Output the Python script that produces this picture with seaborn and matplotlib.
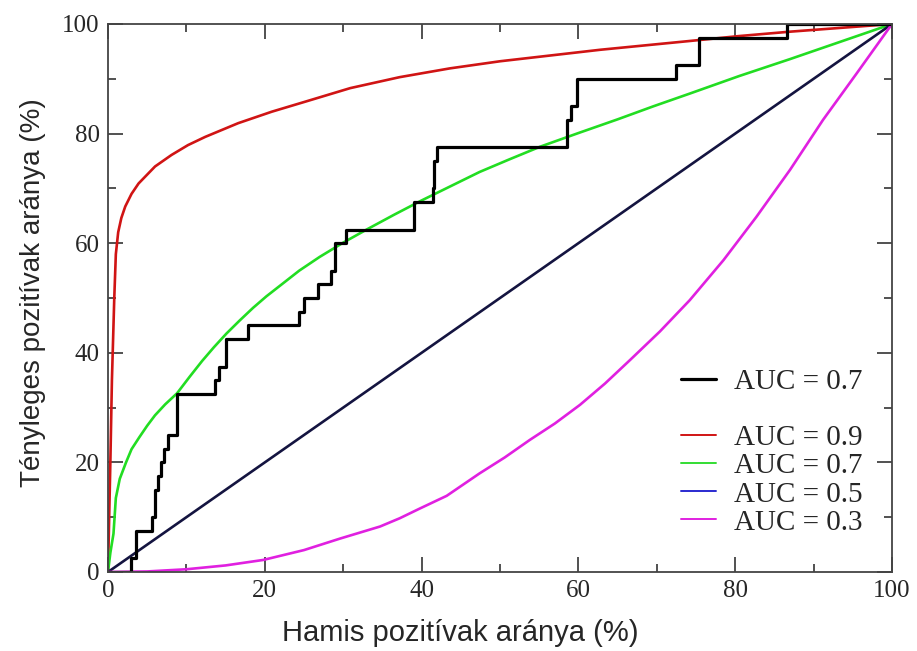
import matplotlib
matplotlib.use("Agg")
import matplotlib.pyplot as plt
from matplotlib.lines import Line2D
from matplotlib.ticker import MultipleLocator
import seaborn as sns
import pandas as pd

# Empirical ROC curve (step function): false positive rate / true positive rate, %
emp_fpr = [0, 2.9, 3.6, 5.6, 6.0, 6.4, 6.8, 7.2, 7.6, 8.8, 13.6, 14.2, 15.1, 17.8,
           24.4, 25.0, 26.8, 28.5, 28.9, 30.3, 39.0, 41.4, 41.6, 42.0, 58.5, 59.0,
           59.8, 72.4, 75.4, 86.6, 100]
emp_tpr = [0, 2.5, 7.5, 10, 15, 17.5, 20, 22.5, 25, 32.5, 35, 37.5, 42.5, 45,
           47.5, 50, 52.5, 55, 60, 62.5, 67.5, 70, 75, 77.5, 82.5, 85,
           90, 92.5, 97.5, 100, 100]

# Smooth reference ROC curves
auc09_fpr = [0, 0.3, 0.5, 0.8, 1.0, 1.3, 1.7, 2.2, 3.0, 3.9, 6.0, 8.1, 10.2, 12.4, 16.6,
             20.9, 25.1, 30.9, 37.2, 43.6, 50.0, 56.1, 62.8, 68.5, 74.2, 80.5, 87.0,
             93.5, 100]
auc09_tpr = [0, 20, 35, 50, 58, 62, 64.6, 66.7, 69.0, 70.9, 74.0, 76.1, 77.9, 79.4, 81.9,
             84.0, 85.8, 88.3, 90.3, 91.9, 93.2, 94.2, 95.3, 96.1, 96.9, 97.8, 98.6,
             99.3, 100]

auc07_fpr = [0, 0.3, 0.7, 1.0, 1.5, 2.3, 3.0, 4.0, 5.0, 6.0, 7.3, 8.8, 10.4, 12.0, 13.5,
             15.1, 16.8, 18.5, 20.2, 21.9, 24.4, 27.0, 30.0, 33.0, 36.5, 40.0, 43.7,
             47.4, 51.2, 55.1, 60.0, 65.0, 69.6, 74.2, 80.5, 87.0, 93.5, 100]
auc07_tpr = [0, 3.5, 7.0, 13.5, 17.0, 20.0, 22.4, 24.6, 26.7, 28.6, 30.6, 32.6, 35.6,
             38.5, 41.0, 43.5, 45.9, 48.2, 50.3, 52.2, 55.0, 57.5, 60.1, 62.5, 65.2,
             67.8, 70.4, 73.0, 75.3, 77.6, 80.1, 82.6, 85.0, 87.3, 90.5, 93.6, 96.8, 100]

auc05_fpr = [0, 100]
auc05_tpr = [0, 100]

auc03_fpr = [0, 5, 10, 15, 19.8, 25, 29.6, 34.7, 37.2, 39.8, 43.2, 47.4, 50.6, 53.8,
             57.0, 60.2, 63.4, 66.6, 70.4, 74.2, 78.5, 82.7, 87.0, 91.2, 95.5, 100]
auc03_tpr = [0, 0.1, 0.5, 1.2, 2.2, 4.0, 6.1, 8.3, 9.8, 11.6, 13.9, 18.0, 20.9, 24.1,
             27.1, 30.5, 34.4, 38.7, 43.9, 49.6, 56.9, 64.8, 73.4, 82.5, 91.0, 100]

legend_labels = ["AUC = 0.7", "", "AUC = 0.9", "AUC = 0.7", "AUC = 0.5", "AUC = 0.3"]
x_label = "Hamis pozitívak aránya (%)"
y_label = "Tényleges pozitívak aránya (%)"

sns.set_theme(style="ticks")
plt.rcParams["font.family"] = ["Liberation Serif", "DejaVu Serif"]

fig = plt.figure(figsize=(9.17, 6.51), dpi=100)
ax = fig.add_axes([108 / 917, 1 - 572 / 651, 784 / 917, 548 / 651])

curves = [
    (auc09_fpr, auc09_tpr, "#d01414"),
    (auc07_fpr, auc07_tpr, "#22dd22"),
    (auc05_fpr, auc05_tpr, "#141440"),
    (auc03_fpr, auc03_tpr, "#e020e0"),
]
for fpr, tpr, col in curves:
    df = pd.DataFrame({"fpr": fpr, "tpr": tpr})
    sns.lineplot(data=df, x="fpr", y="tpr", sort=False, color=col, lw=1.9, ax=ax,
                 estimator=None)

emp = pd.DataFrame({"fpr": emp_fpr, "tpr": emp_tpr})
sns.lineplot(data=emp, x="fpr", y="tpr", sort=False, color="black", lw=2.3, ax=ax,
             estimator=None, drawstyle="steps-post")

ax.set_xlim(0, 100)
ax.set_ylim(0, 100)
ax.xaxis.set_major_locator(MultipleLocator(20))
ax.yaxis.set_major_locator(MultipleLocator(20))
ax.xaxis.set_minor_locator(MultipleLocator(10))
ax.yaxis.set_minor_locator(MultipleLocator(10))
ax.tick_params(which="both", direction="in", top=True, right=True,
               color="#333333", width=1.2, labelsize=18)
ax.tick_params(which="major", length=11, pad=6)
ax.tick_params(which="minor", length=6)
for s in ax.spines.values():
    s.set_color("#444444")
    s.set_linewidth(1.3)

ax.set_xlabel(x_label, fontfamily="Liberation Sans", fontsize=21)
ax.set_ylabel(y_label, fontfamily="Liberation Sans", fontsize=20)
ax.xaxis.set_label_coords(0.449, -0.085)
ax.yaxis.set_label_coords(-0.079, 0.51)

handles = [
    Line2D([], [], color="black", lw=2.3),
    Line2D([], [], color="none"),
    Line2D([], [], color="#d01414", lw=1.4),
    Line2D([], [], color="#33dd33", lw=1.4),
    Line2D([], [], color="#2a2ad0", lw=1.4),
    Line2D([], [], color="#e020e0", lw=1.4),
]
ax.legend(handles, legend_labels, loc="lower right", bbox_to_anchor=(0.977, 0.045),
          frameon=False, fontsize=21, handlelength=1.2, handletextpad=0.6,
          labelspacing=0.06, borderaxespad=0)

fig.savefig("out.png", dpi=100)
